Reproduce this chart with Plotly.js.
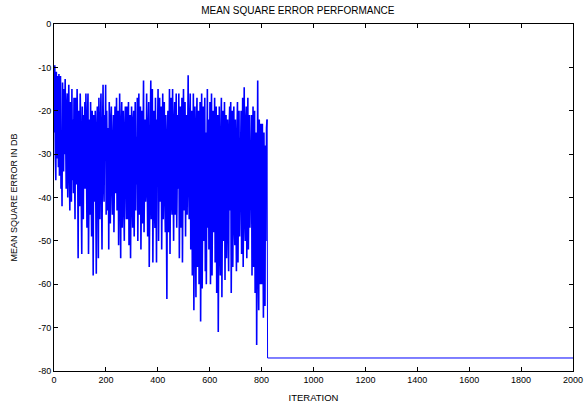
<!DOCTYPE html>
<html>
<head>
<meta charset="utf-8">
<script src="https://cdn.plot.ly/plotly-3.0.1.min.js"></script>
<style>html,body{margin:0;padding:0;background:#fff;}#chart{width:584px;height:406px;}</style>
</head>
<body>
<div id="chart"></div>
<script>
// Iteration spacing of the sampled noisy phase (first sample at iteration 1)
var firstIter = 1;
var iterStep = 2;
// Mean square error (dB) during adaptation
var mseAdapt = [
  -25, -9.5, -30, -36, -11, -24, -31, -12, -33, -11.5, -35, -20, -12, -38, -27, -42, -13.5, -29, -34, -15,
  -30, -12.7, -26, -38, -19, -16, -40, -25, -14, -33, -43, -18, -28, -41, -15, -36, -22, -39, -17, -31,
  -45, -17, -29, -37, -15, -26, -54, -20, -35, -42, -16, -24, -40, -53, -19, -31, -45, -21, -38, -18,
  -38, -16, -27, -47, -22, -16, -53, -30, -22, -44, -18, -36, -49, -20, -25, -58, -21, -33, -41, -20,
  -40, -57.6, -24, -19, -35, -54, -17, -28, -45, -23, -16, -38, -52, -26, -14, -36, -41, -21, -31, -14,
  -44, -20, -29, -43, -24, -52, -18, -32, -46, -22, -19, -37, -44, -27, -21, -48, -33, -19, -39, -25,
  -17, -43, -28, -20, -51, -31, -16, -38, -54, -23, -18, -47, -35, -20, -42, -50, -24, -19, -36, -45,
  -19, -45, -30, -18, -51, -27, -21, -54, -34, -19, -40, -47, -22, -20, -49, -31, -18, -43, -26, -37,
  -17, -50, -29, -16, -44, -35, -19, -52, -24, -20, -46, -33, -13, -48, -27, -22, -41, -38, -16, -30,
  -49, -25, -18, -56, -31, -19, -13, -45, -36, -15, -55, -28, -20, -42, -47, -17, -34, -55, -22, -26,
  -15, -50, -32, -17, -41, -24, -19, -52, -38, -16, -45, -29, -18, -39, -48, -21, -35, -63.4, -26, -20,
  -48, -31, -15, -53, -27, -17, -40, -44, -15, -36, -50, -23, -18, -44, -33, -16, -47, -29, -21, -38,
  -16, -54, -30, -19, -47, -35, -17, -55, -26, -15, -43, -38, -18, -49, -24, -21, -44, -28, -11.8, -37,
  -45, -22, -16, -52, -34, -20, -58, -27, -16, -66, -39, -19, -48, -63, -23, -17, -56, -41, -20, -60,
  -33, -18, -68.6, -30, -16, -61, -44, -19, -50, -36, -17, -57, -25, -60, -40, -15, -47, -22, -52, -31,
  -18, -60, -37, -16, -58, -29, -20, -48, -42, -17, -55, -33, -19, -62, -45, -21, -71, -38, -19, -50,
  -58, -26, -17, -63, -35, -20, -50, -44, -18, -59, -31, -21, -54, -40, -22, -47, -57, -24, -19, -43,
  -18, -62, -36, -20, -56, -30, -19, -46, -51, -22, -38, -57, -26, -18, -55, -34, -20, -49, -41, -23,
  -20, -53, -32, -17, -56, -38, -14.6, -44, -50, -22, -19, -54, -29, -17, -52, -43, -21, -47, -35, -24,
  -21, -58, -33, -19, -56, -42, -20, -62, -48, -25, -74, -30, -13, -55, -66, -22, -40, -60, -23, -52,
  -60, -23, -45, -67.7, -25, -38, -65, -28, -50, -24, -22
];
// Converged phase
var tailIter = [823, 2000];
var tailMse = [-77, -77];
var xTicks = [0, 200, 400, 600, 800, 1000, 1200, 1400, 1600, 1800, 2000];
var yTicks = [-80, -70, -60, -50, -40, -30, -20, -10, 0];

var lastIter = firstIter + iterStep * (mseAdapt.length - 1);
var font = "Liberation Sans, Arial, Helvetica, sans-serif";

var traces = [
  {
    type: "scatter", mode: "lines",
    x0: firstIter, dx: iterStep, y: mseAdapt,
    line: {color: "#0000ff", width: 1.6},
    hoverinfo: "skip", showlegend: false
  },
  {
    type: "scatter", mode: "lines",
    x: [lastIter].concat(tailIter),
    y: [mseAdapt[mseAdapt.length - 1]].concat(tailMse),
    line: {color: "#0000ff", width: 1},
    hoverinfo: "skip", showlegend: false
  }
];

var axisCommon = {
  showgrid: false, zeroline: false,
  showline: true, linecolor: "#000", linewidth: 1, mirror: "ticks",
  ticks: "inside", ticklen: 4, tickcolor: "#000", tickwidth: 1,
  tickfont: {family: font, size: 9, color: "#000"}
};

var layout = {
  width: 584, height: 406,
  margin: {l: 54, r: 11, t: 24, b: 35},
  paper_bgcolor: "#fff", plot_bgcolor: "#fff",
  title: {
    text: "MEAN SQUARE ERROR PERFORMANCE",
    font: {family: font, size: 10, color: "#000"},
    x: 0.51, xanchor: "center", y: 0.975, yanchor: "middle"
  },
  xaxis: Object.assign({}, axisCommon, {
    range: [0, 2000], tickmode: "array", tickvals: xTicks,
    ticktext: xTicks.map(String),
    title: {text: "ITERATION", font: {family: font, size: 9.5, color: "#000"}, standoff: 10}
  }),
  yaxis: Object.assign({}, axisCommon, {
    range: [-80, 0], tickmode: "array", tickvals: yTicks,
    ticktext: yTicks.map(String),
    title: {text: "MEAN SQUARE ERROR IN DB", font: {family: font, size: 9, color: "#000"}, standoff: 19}
  })
};

Plotly.newPlot("chart", traces, layout, {staticPlot: true, displayModeBar: false});
</script>
</body>
</html>
